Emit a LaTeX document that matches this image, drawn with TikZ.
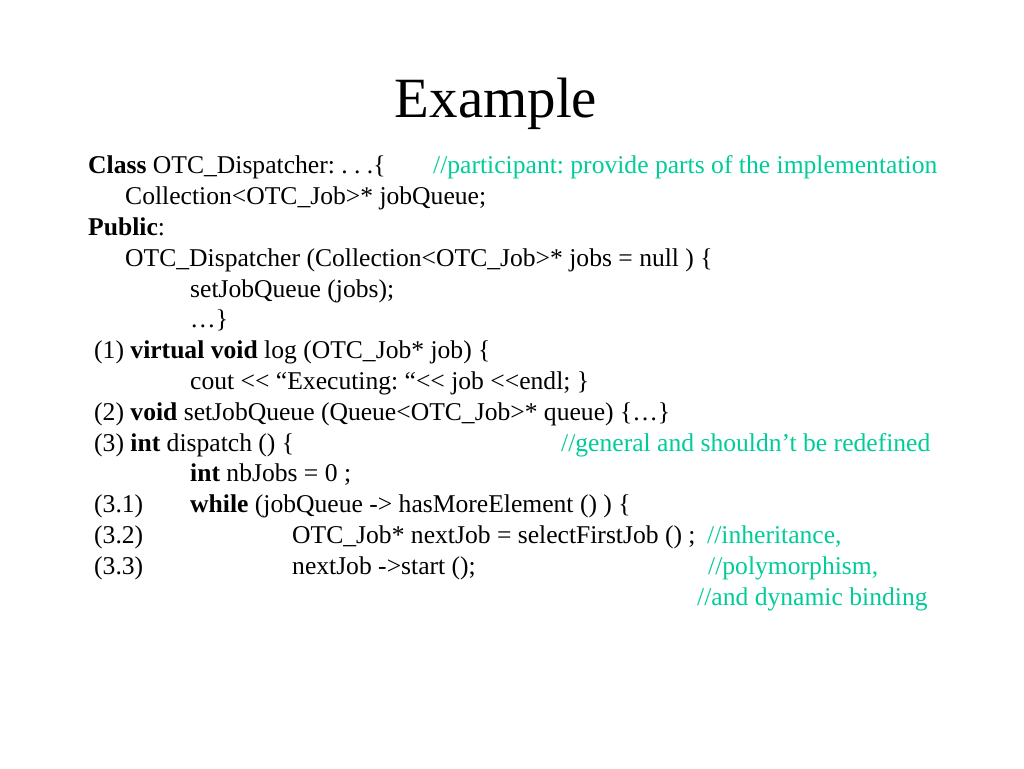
\documentclass[tikz,border=0pt]{standalone}
\usepackage{fontspec}
\newfontfamily\slidefont{Liberation Serif}
\usepackage{xcolor}
\definecolor{notegreen}{HTML}{00CC99}
\frenchspacing
\tikzset {>=stealth}
\tikzset{
  code/.style={anchor=base west,inner sep=0pt,font=\slidefont\fontsize{25.6}{30.8}\selectfont},
  note/.style={code,text=notegreen},
  heading/.style={anchor=base,inner sep=0pt,font=\slidefont\fontsize{56.9}{68}\selectfont}
}

\begin{document}
\begin{tikzpicture}[x=1pt,y=-1pt]
\useasboundingbox[fill=white] (0,0) rectangle (1024,768);
\node[heading] (title) at (496,117) {Example};
\node[code] (cls) at (88,173) {\textbf{Class} OTC\_Dispatcher: . . .\{};
\node[note] (n1) at (433,173) {//participant: provide parts of the implementation};
\node[code] (field) at (125,204) {Collection<OTC\_Job>* jobQueue;};
\node[code] (pub) at (88,235) {\textbf{Public}:};
\node[code] (ctor) at (125,266) {OTC\_Dispatcher (Collection<OTC\_Job>* jobs = null ) \{};
\node[code] (ctorA) at (190,297) {setJobQueue (jobs);};
\node[code] (ctorB) at (190,327) {…\}};
\node[code] (m1) at (94,358) {(1) \textbf{virtual void} log (OTC\_Job* job) \{};
\node[code] (m1a) at (190,389) {cout <\kern0pt< “Executing: “<\kern0pt< job <\kern0pt<endl; \}};
\node[code] (m2) at (94,420) {(2) \textbf{void} setJobQueue (Queue<OTC\_Job>* queue) \{…\}};
\node[code] (m3) at (94,451) {(3) \textbf{int} dispatch () \{};
\node[note] (n2) at (561,451) {//general and shouldn’t be redefined};
\node[code] (m3a) at (190,481) {\textbf{int} nbJobs = 0 ;};
\node[code] (s31) at (94,512) {(3.1)};
\node[code] (w31) at (190,512) {\textbf{while} (jobQueue -> hasMoreElement () ) \{};
\node[code] (s32) at (94,543) {(3.2)};
\node[code] (w32) at (292,543) {OTC\_Job* nextJob = selectFirstJob () ;};
\node[note] (n3) at (707,543) {//inheritance,};
\node[code] (s33) at (94,574) {(3.3)};
\node[code] (w33) at (292,574) {nextJob ->start ();};
\node[note] (n4) at (708,574) {//polymorphism,};
\node[note] (n5) at (697,605) {//and dynamic binding};
\end{tikzpicture}
\end{document}
